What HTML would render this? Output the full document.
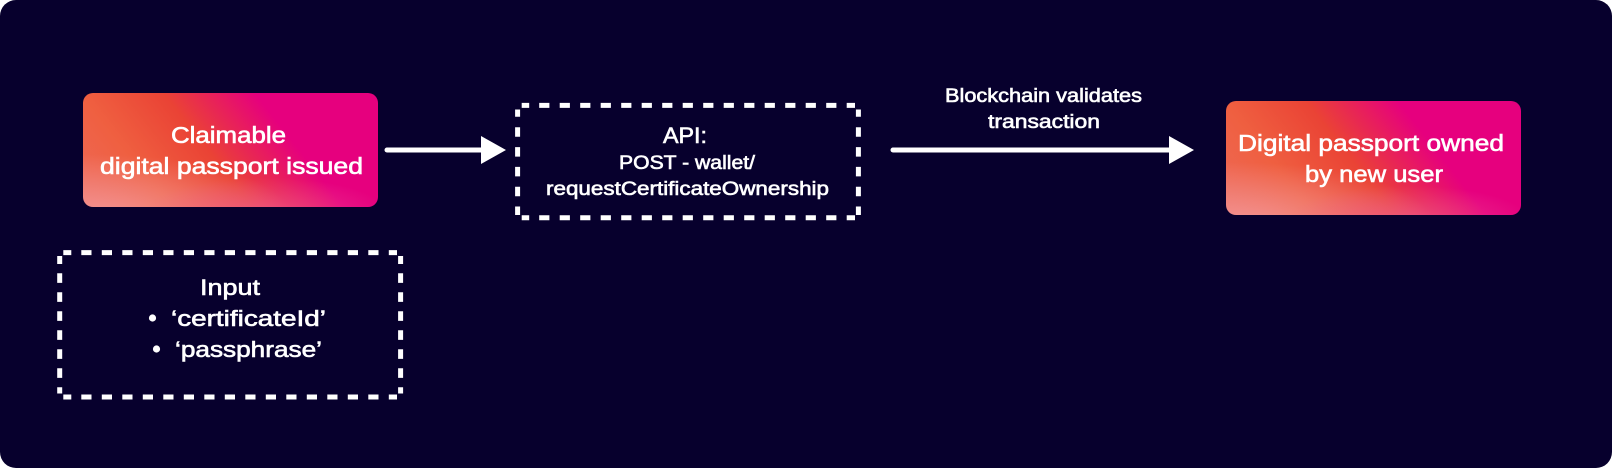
<!DOCTYPE html>
<html><head><meta charset="utf-8"><style>
html,body{margin:0;padding:0;background:#fff;width:1612px;height:468px;overflow:hidden}
.bg{position:absolute;left:0;top:0;width:1612px;height:468px;background:#07002d;border-radius:16px}
.g{position:absolute;width:295px;height:114px;border-radius:10px;background:
radial-gradient(ellipse 120px 34px at 62% 104%,rgba(238,90,155,.6),rgba(238,90,155,0) 100%),
radial-gradient(ellipse 200px 62px at 3% 108%,rgba(243,150,150,.95),rgba(243,150,150,0) 100%),
linear-gradient(52deg,#ee6a58 0%,#ef5f40 23%,#ea4335 44%,#e6007e 68%,#e6007e 100%)}
svg{position:absolute;left:0;top:0}
text{font-family:"Liberation Sans",sans-serif;fill:#fff;stroke:#fff;stroke-width:.6px}
</style></head><body>
<div class="bg"></div>
<div class="g" style="left:83px;top:93px"></div>
<div class="g" style="left:1226px;top:101px"></div>
<svg width="1612" height="468" viewBox="0 0 1612 468">
<g fill="none" stroke="#fff" stroke-width="5">
<!-- Input box -->
<path d="M63.3 252.6H397" stroke-dasharray="8 10 10.2 10.3 10.2 10.3 10.2 10.3 10.2 10.3 10.2 10.3 10.2 10.3 10.2 10.3 10.2 10.3 10.2 10.3 10.2 10.3 10.2 10.3 10.2 10.3 10.2 10.3 10.2 10.3 10.2 10.3 8 0"/>
<path d="M63.3 397H397" stroke-dasharray="8 10 10.2 10.3 10.2 10.3 10.2 10.3 10.2 10.3 10.2 10.3 10.2 10.3 10.2 10.3 10.2 10.3 10.2 10.3 10.2 10.3 10.2 10.3 10.2 10.3 10.2 10.3 10.2 10.3 10.2 10.3 8 0"/>
<path d="M59.7 256V393.5" stroke-dasharray="8 9.3 9.6 9.4 9.6 9.4 9.6 9.4 9.6 9.4 9.6 9.4 9.6 9.4 9.6 9.4 7 0"/>
<path d="M400.6 256V393.5" stroke-dasharray="8 9.3 9.6 9.4 9.6 9.4 9.6 9.4 9.6 9.4 9.6 9.4 9.6 9.4 9.6 9.4 7 0"/>
<!-- API box -->
<path d="M521.7 105.4H855" stroke-dasharray="7.5 10 10.2 10.3 10.2 10.3 10.2 10.3 10.2 10.3 10.2 10.3 10.2 10.3 10.2 10.3 10.2 10.3 10.2 10.3 10.2 10.3 10.2 10.3 10.2 10.3 10.2 10.3 10.2 10.3 10.2 10.3 8 0"/>
<path d="M521.7 217.7H855" stroke-dasharray="7.5 10 10.2 10.3 10.2 10.3 10.2 10.3 10.2 10.3 10.2 10.3 10.2 10.3 10.2 10.3 10.2 10.3 10.2 10.3 10.2 10.3 10.2 10.3 10.2 10.3 10.2 10.3 10.2 10.3 10.2 10.3 8 0"/>
<path d="M517.6 109.5V215" stroke-dasharray="7.3 10.5 9.5 10.3 9.5 10.3 9.5 10.3 9.5 10.3 8 0"/>
<path d="M858.4 109.5V215" stroke-dasharray="7.3 10.5 9.5 10.3 9.5 10.3 9.5 10.3 9.5 10.3 8 0"/>
<line x1="387" y1="150" x2="482" y2="150" stroke-linecap="round"/>
<line x1="893" y1="150" x2="1170" y2="150" stroke-linecap="round"/>
</g>
<polygon points="481,136 506,150 481,164" fill="#fff"/>
<polygon points="1169,136 1194,150 1169,164" fill="#fff"/>
<g font-size="23">
<text x="171" y="143" textLength="115" lengthAdjust="spacingAndGlyphs">Claimable</text>
<text x="100" y="174" textLength="263" lengthAdjust="spacingAndGlyphs">digital passport issued</text>
<text x="1238" y="151" textLength="266" lengthAdjust="spacingAndGlyphs">Digital passport owned</text>
<text x="1305" y="182" textLength="138" lengthAdjust="spacingAndGlyphs">by new user</text>
</g>
<g font-size="22">
<text x="200" y="295" textLength="60" lengthAdjust="spacingAndGlyphs">Input</text>
<text x="171" y="326" textLength="155" lengthAdjust="spacingAndGlyphs">‘certificateId’</text>
<text x="175" y="357" textLength="147" lengthAdjust="spacingAndGlyphs">‘passphrase’</text>
<text x="663" y="143" textLength="44" lengthAdjust="spacingAndGlyphs">API:</text>
</g>
<circle cx="152.5" cy="318" r="3.6" fill="#fff"/>
<circle cx="156.5" cy="349" r="3.6" fill="#fff"/>
<g font-size="19">
<text x="619" y="169" textLength="136" lengthAdjust="spacingAndGlyphs">POST - wallet/</text>
<text x="546" y="195" textLength="283" lengthAdjust="spacingAndGlyphs">requestCertificateOwnership</text>
<text x="945" y="102" textLength="197" lengthAdjust="spacingAndGlyphs">Blockchain validates</text>
<text x="988" y="128" textLength="112" lengthAdjust="spacingAndGlyphs">transaction</text>
</g>
</svg>
</body></html>
